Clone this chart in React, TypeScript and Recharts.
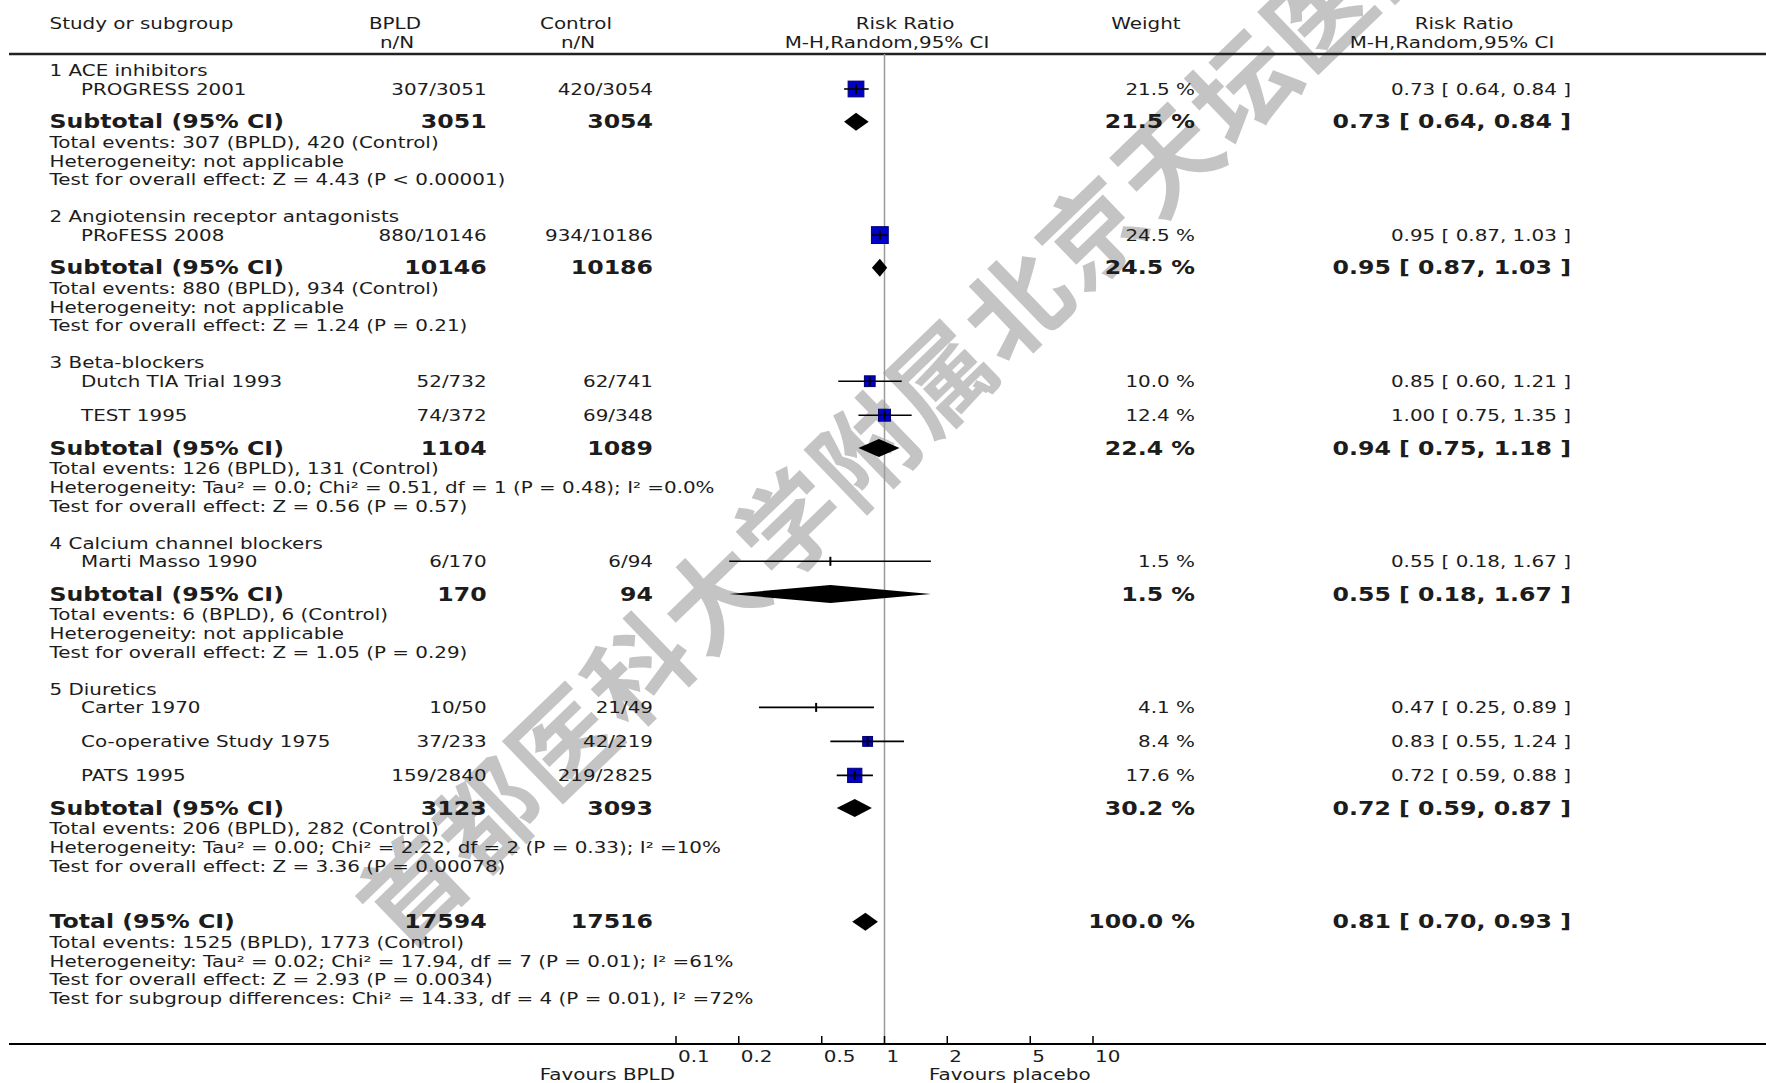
import React from 'react';
import { ComposedChart, Scatter, XAxis, YAxis, ReferenceLine, Customized } from 'recharts';

// ---------- data ----------
const groupTitles = [
  '1 ACE inhibitors',
  '2 Angiotensin receptor antagonists',
  '3 Beta-blockers',
  '4 Calcium channel blockers',
  '5 Diuretics',
];
const studyNames = [
  'PROGRESS 2001',
  'PRoFESS 2008',
  'Dutch TIA Trial 1993',
  'TEST 1995',
  'Marti Masso 1990',
  'Carter 1970',
  'Co-operative Study 1975',
  'PATS 1995',
];
const studyGroup = [0, 1, 2, 2, 3, 4, 4, 4];
const bpldEvents = [307, 880, 52, 74, 6, 10, 37, 159];
const bpldTotal = [3051, 10146, 732, 372, 170, 50, 233, 2840];
const ctrlEvents = [420, 934, 62, 69, 6, 21, 42, 219];
const ctrlTotal = [3054, 10186, 741, 348, 94, 49, 219, 2825];
const studyWeight = [21.5, 24.5, 10.0, 12.4, 1.5, 4.1, 8.4, 17.6];
const studyRR = [0.73, 0.95, 0.85, 1.0, 0.55, 0.47, 0.83, 0.72];
const studyLow = [0.64, 0.87, 0.6, 0.75, 0.18, 0.25, 0.55, 0.59];
const studyHigh = [0.84, 1.03, 1.21, 1.35, 1.67, 0.89, 1.24, 0.88];

const subBpld = [3051, 10146, 1104, 170, 3123];
const subCtrl = [3054, 10186, 1089, 94, 3093];
const subBpldEvents = [307, 880, 126, 6, 206];
const subCtrlEvents = [420, 934, 131, 6, 282];
const subWeight = [21.5, 24.5, 22.4, 1.5, 30.2];
const subRR = [0.73, 0.95, 0.94, 0.55, 0.72];
const subLow = [0.64, 0.87, 0.75, 0.18, 0.59];
const subHigh = [0.84, 1.03, 1.18, 1.67, 0.87];
const subHeterogeneity = [
  'not applicable',
  'not applicable',
  'Tau² = 0.0; Chi² = 0.51, df = 1 (P = 0.48); I² =0.0%',
  'not applicable',
  'Tau² = 0.00; Chi² = 2.22, df = 2 (P = 0.33); I² =10%',
];
const subOverall = [
  'Z = 4.43 (P < 0.00001)',
  'Z = 1.24 (P = 0.21)',
  'Z = 0.56 (P = 0.57)',
  'Z = 1.05 (P = 0.29)',
  'Z = 3.36 (P = 0.00078)',
];

const totalBpld = 17594;
const totalCtrl = 17516;
const totalBpldEvents = 1525;
const totalCtrlEvents = 1773;
const totalWeight = 100.0;
const totalRR = 0.81;
const totalLow = 0.7;
const totalHigh = 0.93;
const totalHeterogeneity = 'Tau² = 0.02; Chi² = 17.94, df = 7 (P = 0.01); I² =61%';
const totalOverall = 'Z = 2.93 (P = 0.0034)';
const subgroupDiff = 'Chi² = 14.33, df = 4 (P = 0.01), I² =72%';

const xTicks = [0.1, 0.2, 0.5, 1, 2, 5, 10];
const xTickLabels = ['0.1', '0.2', '0.5', '1', '2', '5', '10'];
const watermark = '首都医科大学附属北京天坛医院';

// ---------- layout ----------
const W = 1766;
const H = 1083;
const AXIS_Y = 1044;
const HEADER_LINE_Y = 54;
const PLOT_LEFT = 9;
const PX_PER_DECADE = 208.5;
const X01 = 676; // pixel of 0.1
const XMIN = Math.pow(10, -1 - (X01 - PLOT_LEFT) / PX_PER_DECADE);
const XMAX = Math.pow(10, -1 + (W - X01) / PX_PER_DECADE);

const FIRST_GROUP_Y = 70.5;
const TITLE_TO_STUDY = 18.5;
const STUDY_STEP = 34;
const STUDY_TO_SUB = 32.7;
const SUB_TO_INFO = 20.3;
const INFO_STEP = 18.8;
const INFO_TO_GROUP = 37;
const INFO_TO_TOTAL = 55.8;

const COL_LEFT = 49.5;
const COL_STUDY = 81;
const COL_BPLD = 486.6;
const COL_CTRL = 653;
const COL_WEIGHT = 1195;
const COL_RR = 1571;

const SX = 1.245;
const FONT = "'DejaVu Sans', 'Liberation Sans', sans-serif";

const fmtRR = (r: number, l: number, h: number) =>
  `${r.toFixed(2)} [ ${l.toFixed(2)}, ${h.toFixed(2)} ]`;
const fmtW = (w: number) => `${w.toFixed(1)} %`;

type Row = { kind: string; x: number; y: number; [k: string]: any };
const rows: Row[] = [];
const studyY: number[] = [];
const subY: number[] = [];
let totalY = 0;

rows.push({ kind: 'header1', x: 1, y: 23 });
rows.push({ kind: 'header2', x: 1, y: 42 });

let cur = FIRST_GROUP_Y;
groupTitles.forEach((title, g) => {
  if (g > 0) cur += INFO_TO_GROUP;
  rows.push({ kind: 'group', x: 1, y: cur, text: title });
  cur += TITLE_TO_STUDY;
  let first = true;
  studyNames.forEach((_, i) => {
    if (studyGroup[i] !== g) return;
    if (!first) cur += STUDY_STEP;
    first = false;
    studyY[i] = cur;
    rows.push({ kind: 'study', x: 1, y: cur, i });
  });
  cur += STUDY_TO_SUB;
  subY[g] = cur;
  rows.push({ kind: 'subtotal', x: 1, y: cur, g });
  cur += SUB_TO_INFO;
  rows.push({ kind: 'info', x: 1, y: cur, text: `Total events: ${subBpldEvents[g]} (BPLD), ${subCtrlEvents[g]} (Control)` });
  cur += INFO_STEP;
  rows.push({ kind: 'info', x: 1, y: cur, text: `Heterogeneity: ${subHeterogeneity[g]}` });
  cur += INFO_STEP;
  rows.push({ kind: 'info', x: 1, y: cur, text: `Test for overall effect: ${subOverall[g]}` });
});
cur += INFO_TO_TOTAL;
totalY = cur;
rows.push({ kind: 'total', x: 1, y: cur });
cur += SUB_TO_INFO;
rows.push({ kind: 'info', x: 1, y: cur, text: `Total events: ${totalBpldEvents} (BPLD), ${totalCtrlEvents} (Control)` });
cur += INFO_STEP;
rows.push({ kind: 'info', x: 1, y: cur, text: `Heterogeneity: ${totalHeterogeneity}` });
cur += INFO_STEP;
rows.push({ kind: 'info', x: 1, y: cur, text: `Test for overall effect: ${totalOverall}` });
cur += INFO_STEP;
rows.push({ kind: 'info', x: 1, y: cur, text: `Test for subgroup differences: ${subgroupDiff}` });

const squareData = studyNames.map((_, i) => ({ x: studyRR[i], y: studyY[i], w: studyWeight[i] }));
const ciData = studyNames.map((_, i) => [
  { x: studyLow[i], y: studyY[i] },
  { x: studyRR[i], y: studyY[i], est: true },
  { x: studyHigh[i], y: studyY[i] },
]);
const diamondData = [
  ...subRR.map((r, g) => [
    { x: subLow[g], y: subY[g] },
    { x: r, y: subY[g] },
    { x: subHigh[g], y: subY[g] },
  ]),
  [
    { x: totalLow, y: totalY },
    { x: totalRR, y: totalY },
    { x: totalHigh, y: totalY },
  ],
];

// ---------- drawing helpers ----------
const T = ({ x, y, anchor = 'start', bold = false, size, children }: any) => (
  <text
    transform={`translate(${x},${y}) scale(${SX},1)`}
    textAnchor={anchor}
    dominantBaseline="central"
    fontFamily={FONT}
    fontSize={size ?? (bold ? 19 : 16)}
    fontWeight={bold ? 'bold' : 'normal'}
    fill="#1c1c1c"
  >
    {children}
  </text>
);

const renderRow = (p: any) => {
  const r: Row = p.payload;
  const y = p.cy;
  switch (r.kind) {
    case 'header1':
      return (
        <g>
          <T x={COL_LEFT} y={y}>Study or subgroup</T>
          <T x={395} y={y} anchor="middle">BPLD</T>
          <T x={576} y={y} anchor="middle">Control</T>
          <T x={905} y={y} anchor="middle">Risk Ratio</T>
          <T x={1146} y={y} anchor="middle">Weight</T>
          <T x={1464} y={y} anchor="middle">Risk Ratio</T>
        </g>
      );
    case 'header2':
      return (
        <g>
          <T x={397} y={y} anchor="middle">n/N</T>
          <T x={578} y={y} anchor="middle">n/N</T>
          <T x={887} y={y} anchor="middle">M-H,Random,95% CI</T>
          <T x={1452} y={y} anchor="middle">M-H,Random,95% CI</T>
        </g>
      );
    case 'group':
    case 'info':
      return <T x={COL_LEFT} y={y}>{r.text}</T>;
    case 'study': {
      const i = r.i;
      return (
        <g>
          <T x={COL_STUDY} y={y}>{studyNames[i]}</T>
          <T x={COL_BPLD} y={y} anchor="end">{`${bpldEvents[i]}/${bpldTotal[i]}`}</T>
          <T x={COL_CTRL} y={y} anchor="end">{`${ctrlEvents[i]}/${ctrlTotal[i]}`}</T>
          <T x={COL_WEIGHT} y={y} anchor="end">{fmtW(studyWeight[i])}</T>
          <T x={COL_RR} y={y} anchor="end">{fmtRR(studyRR[i], studyLow[i], studyHigh[i])}</T>
        </g>
      );
    }
    case 'subtotal': {
      const g = r.g;
      return (
        <g>
          <T x={COL_LEFT} y={y} bold>Subtotal (95% CI)</T>
          <T x={COL_BPLD} y={y} anchor="end" bold>{subBpld[g]}</T>
          <T x={COL_CTRL} y={y} anchor="end" bold>{subCtrl[g]}</T>
          <T x={COL_WEIGHT} y={y} anchor="end" bold>{fmtW(subWeight[g])}</T>
          <T x={COL_RR} y={y} anchor="end" bold>{fmtRR(subRR[g], subLow[g], subHigh[g])}</T>
        </g>
      );
    }
    case 'total':
      return (
        <g>
          <T x={COL_LEFT} y={y} bold>Total (95% CI)</T>
          <T x={COL_BPLD} y={y} anchor="end" bold>{totalBpld}</T>
          <T x={COL_CTRL} y={y} anchor="end" bold>{totalCtrl}</T>
          <T x={COL_WEIGHT} y={y} anchor="end" bold>{fmtW(totalWeight)}</T>
          <T x={COL_RR} y={y} anchor="end" bold>{fmtRR(totalRR, totalLow, totalHigh)}</T>
        </g>
      );
    default:
      return <g />;
  }
};

const renderSquare = (p: any) => {
  const w = p.payload.w;
  if (w < 5) return <g />;
  const s = 3.4 * Math.sqrt(w);
  return (
    <rect x={p.cx - s / 2} y={p.cy - s / 2} width={s} height={s} fill="#0000c8" stroke="#000070" strokeWidth={1} />
  );
};

const renderTick = (p: any) =>
  p.payload.est ? (
    <line x1={p.cx} x2={p.cx} y1={p.cy - 4.5} y2={p.cy + 4.5} stroke="#000" strokeWidth={2} />
  ) : (
    <g />
  );

const renderDiamond = (lp: any) => {
  const pts = lp.points || [];
  if (pts.length < 3) return <g />;
  const [a, b, c] = pts;
  const hh = 9;
  return <path d={`M${a.x},${a.y} L${b.x},${b.y - hh} L${c.x},${c.y} L${b.x},${b.y + hh} Z`} fill="#000" />;
};

const AxisTick = (p: any) => {
  const idx = xTicks.indexOf(p.payload.value);
  return (
    <g>
      <line x1={p.x} x2={p.x} y1={p.y - 8} y2={p.y} stroke="#000" strokeWidth={1.5} />
      <T x={p.x + 2} y={p.y + 12}>{xTickLabels[idx]}</T>
    </g>
  );
};

const Decor = () => (
  <g>
    <T x={675} y={1074} anchor="end">Favours BPLD</T>
    <T x={929} y={1074}>Favours placebo</T>
    <text
      transform="translate(402,952) rotate(-44)"
      fontFamily="'Noto Sans CJK SC', sans-serif"
      fontSize={102}
      fontWeight={700}
      fill="#b4b4b4"
      fillOpacity={0.78}
      letterSpacing={3}
    >
      {watermark}
    </text>
  </g>
);

export default function App() {
  return (
    <div style={{ position: 'absolute', left: 0, top: 0, width: W, height: H, background: '#fff' }}>
      <ComposedChart width={W} height={H} margin={{ top: 0, right: 0, bottom: 0, left: PLOT_LEFT }}>
        <XAxis
          dataKey="x"
          type="number"
          scale="log"
          domain={[XMIN, XMAX]}
          allowDataOverflow
          ticks={xTicks}
          interval={0}
          height={H - AXIS_Y}
          tickSize={0}
          tickMargin={0}
          tickLine={false}
          axisLine={{ stroke: '#000', strokeWidth: 2 }}
          tick={AxisTick}
        />
        <YAxis dataKey="y" type="number" domain={[0, AXIS_Y]} reversed hide allowDataOverflow />
        <ReferenceLine y={HEADER_LINE_Y} stroke="#222" strokeWidth={2.5} />
        <ReferenceLine
          segment={[
            { x: 1, y: HEADER_LINE_Y },
            { x: 1, y: AXIS_Y },
          ]}
          stroke="#9a9a9a"
          strokeWidth={1.5}
        />
        <Scatter data={rows} shape={renderRow} isAnimationActive={false} />
        <Scatter data={squareData} shape={renderSquare} isAnimationActive={false} />
        {ciData.map((d, i) => (
          <Scatter
            key={`ci-${i}`}
            data={d}
            line={{ stroke: '#000', strokeWidth: 1.6 }}
            lineJointType="linear"
            shape={renderTick}
            isAnimationActive={false}
          />
        ))}
        {diamondData.map((d, i) => (
          <Scatter key={`dm-${i}`} data={d} line={renderDiamond} shape={() => <g />} isAnimationActive={false} />
        ))}
        <Customized component={Decor} />
      </ComposedChart>
    </div>
  );
}
